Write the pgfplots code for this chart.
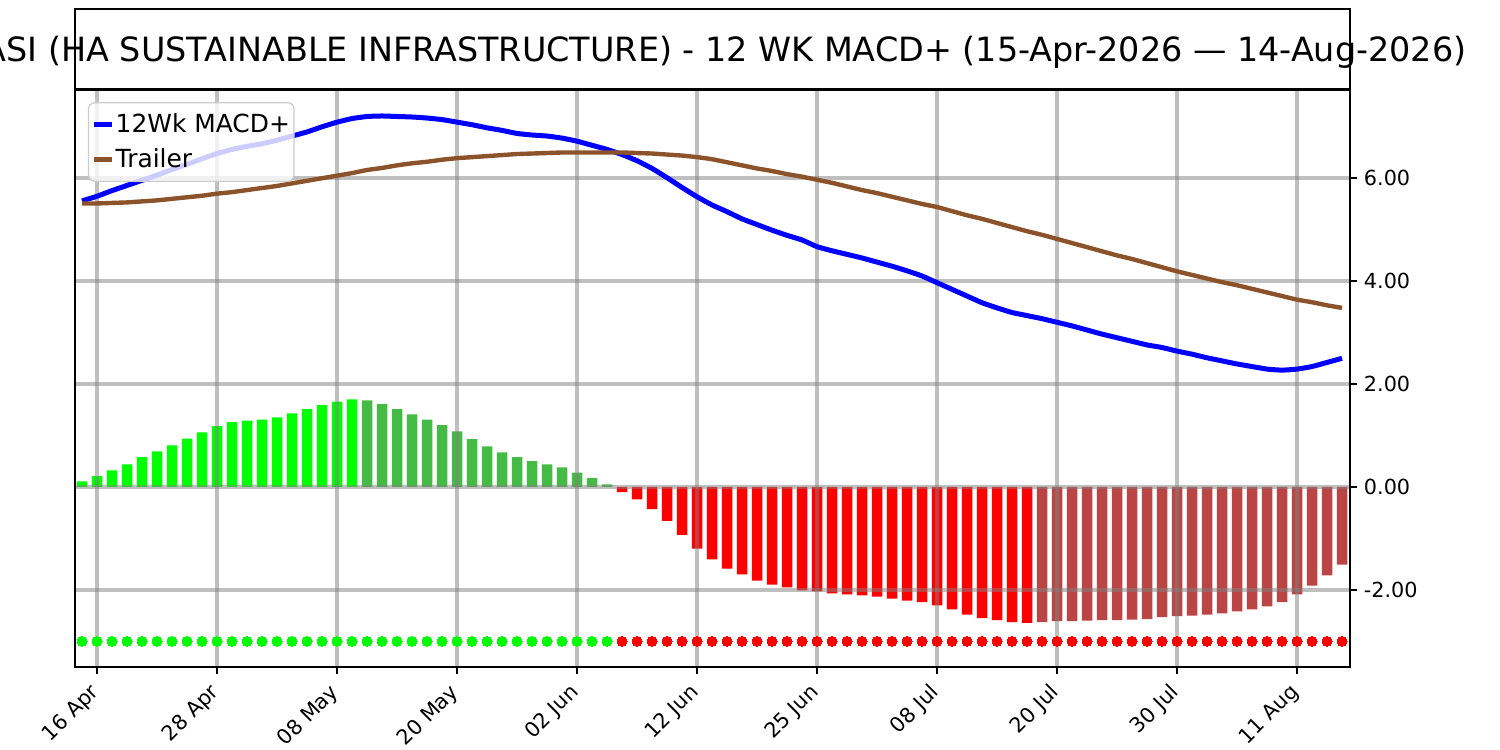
\documentclass[border=0pt]{standalone}
\usepackage{fontspec}
\setmainfont{DejaVu Sans}
\usepackage{pgfplots}
\pgfplotsset{compat=1.18}
\usepackage{pgfplotstable}

\definecolor{lgreen}{RGB}{0,255,0}
\definecolor{dgreen}{RGB}{68,187,68}
\definecolor{lred}{RGB}{255,0,0}
\definecolor{dred}{RGB}{187,68,68}
\definecolor{brownline}{RGB}{140,82,42}

% histogram: rising positive
\pgfplotstableread{
x y
0 0.11
1 0.21
2 0.32
3 0.44
4 0.58
5 0.69
6 0.81
7 0.94
8 1.06
9 1.18
10 1.26
11 1.29
12 1.31
13 1.35
14 1.43
15 1.51
16 1.59
17 1.66
18 1.70
}\barsLG
% falling positive
\pgfplotstableread{
x y
19 1.68
20 1.61
21 1.51
22 1.41
23 1.31
24 1.20
25 1.08
26 0.93
27 0.79
28 0.67
29 0.58
30 0.50
31 0.44
32 0.38
33 0.28
34 0.17
35 0.05
}\barsDG
% falling negative
\pgfplotstableread{
x y
36 -0.10
37 -0.24
38 -0.43
39 -0.66
40 -0.93
41 -1.20
42 -1.41
43 -1.59
44 -1.70
45 -1.82
46 -1.90
47 -1.95
48 -2.01
49 -2.03
50 -2.07
51 -2.09
52 -2.11
53 -2.13
54 -2.17
55 -2.21
56 -2.24
57 -2.30
58 -2.38
59 -2.48
60 -2.55
61 -2.59
62 -2.63
63 -2.64
}\barsLR
% rising negative
\pgfplotstableread{
x y
64 -2.63
65 -2.61
66 -2.61
67 -2.60
68 -2.59
69 -2.59
70 -2.58
71 -2.57
72 -2.53
73 -2.51
74 -2.50
75 -2.48
76 -2.46
77 -2.42
78 -2.38
79 -2.32
80 -2.24
81 -2.09
82 -1.92
83 -1.72
84 -1.51
}\barsDR

\pgfplotstableread{
x macd trailer
0 5.56 5.51
1 5.65 5.51
2 5.76 5.52
3 5.86 5.53
4 5.96 5.55
5 6.06 5.57
6 6.17 5.60
7 6.27 5.63
8 6.38 5.66
9 6.48 5.70
10 6.56 5.73
11 6.62 5.77
12 6.67 5.81
13 6.74 5.85
14 6.82 5.90
15 6.90 5.95
16 7.00 6.00
17 7.09 6.05
18 7.16 6.10
19 7.20 6.16
20 7.21 6.20
21 7.20 6.25
22 7.19 6.29
23 7.17 6.32
24 7.14 6.36
25 7.09 6.39
26 7.04 6.41
27 6.98 6.43
28 6.93 6.45
29 6.87 6.47
30 6.84 6.48
31 6.82 6.49
32 6.78 6.50
33 6.72 6.50
34 6.64 6.50
35 6.56 6.50
36 6.46 6.50
37 6.34 6.49
38 6.19 6.48
39 6.01 6.46
40 5.82 6.44
41 5.64 6.41
42 5.48 6.37
43 5.35 6.31
44 5.21 6.25
45 5.10 6.19
46 4.99 6.14
47 4.89 6.08
48 4.80 6.03
49 4.67 5.97
50 4.59 5.91
51 4.52 5.84
52 4.45 5.77
53 4.37 5.71
54 4.29 5.64
55 4.20 5.57
56 4.10 5.50
57 3.97 5.44
58 3.84 5.36
59 3.71 5.28
60 3.58 5.21
61 3.48 5.13
62 3.39 5.05
63 3.33 4.97
64 3.27 4.90
65 3.20 4.82
66 3.13 4.74
67 3.05 4.66
68 2.97 4.58
69 2.90 4.50
70 2.83 4.43
71 2.76 4.35
72 2.71 4.27
73 2.64 4.19
74 2.58 4.12
75 2.51 4.05
76 2.45 3.98
77 2.39 3.92
78 2.34 3.85
79 2.29 3.78
80 2.27 3.71
81 2.29 3.64
82 2.34 3.59
83 2.42 3.53
84 2.50 3.48
}\lines

\begin{document}
\begin{tikzpicture}
\begin{axis}[
  at={(0,0)}, anchor=south west,
  scale only axis, width=612bp, height=276.96bp,
  xmin=-0.47, xmax=84.53, ymin=-3.5, ymax=7.715,
  set layers=standard,
  axis line style={line width=0.8bp, black},
  every tick/.style={black, line width=0.8bp},
  major tick length=3.5bp,
  tick align=outside,
  xtick pos=bottom, ytick pos=right, yticklabel pos=right,
  xtick={1,9,17,25,33,41,49,57,65,73,81},
  xticklabels={16 Apr,28 Apr,08 May,20 May,02 Jun,12 Jun,25 Jun,08 Jul,20 Jul,30 Jul,11 Aug},
  ytick={-2,0,2,4,6},
  yticklabels={-2.00,0.00,2.00,4.00,6.00},
  ticklabel style={font=\fontsize{10}{12}\selectfont},
  xticklabel style={xshift=-4bp, yshift=-1.5bp, rotate=45, anchor=north east, inner sep=1.5bp},
  yticklabel style={inner sep=3bp},
  grid=major,
  major grid style={color=gray, opacity=0.5, line width=2bp},
  legend style={at={(0.0102,0.979)}, anchor=north west, draw=black!20, line width=0.6bp,
    rounded corners=3bp, fill=white, fill opacity=0.8, text opacity=1,
    font=\fontsize{12}{14}\selectfont, inner xsep=1.5bp, inner ysep=3.5bp, row sep=3.5bp,
    nodes={inner xsep=0.5bp, inner ysep=1.5bp}},
  legend cell align=left,
  legend image code/.code={\draw[#1, line width=2.5bp] (0bp,0bp) -- (8.5bp,0bp);},
]
\addplot[on layer=axis background, ybar, bar width=0.7, bar shift=0pt, fill=lgreen, draw=none, forget plot] table[x=x,y=y] {\barsLG};
\addplot[on layer=axis background, ybar, bar width=0.7, bar shift=0pt, fill=dgreen, draw=none, forget plot] table[x=x,y=y] {\barsDG};
\addplot[on layer=axis background, ybar, bar width=0.7, bar shift=0pt, fill=lred, draw=none, forget plot] table[x=x,y=y] {\barsLR};
\addplot[on layer=axis background, ybar, bar width=0.7, bar shift=0pt, fill=dred, draw=none, forget plot] table[x=x,y=y] {\barsDR};
\addplot[on layer=axis background, color=lgreen, only marks, mark=*, mark size=2.4bp, mark options={solid, draw=lgreen, fill=lgreen, line width=0pt}, forget plot] coordinates {
(0,-3) (1,-3) (2,-3) (3,-3) (4,-3) (5,-3) (6,-3) (7,-3) (8,-3) (9,-3)
(10,-3) (11,-3) (12,-3) (13,-3) (14,-3) (15,-3) (16,-3) (17,-3) (18,-3) (19,-3)
(20,-3) (21,-3) (22,-3) (23,-3) (24,-3) (25,-3) (26,-3) (27,-3) (28,-3) (29,-3)
(30,-3) (31,-3) (32,-3) (33,-3) (34,-3) (35,-3)};
\addplot[on layer=axis background, color=lred, only marks, mark=*, mark size=2.4bp, mark options={solid, draw=lred, fill=lred, line width=0pt}, forget plot] coordinates {
(36,-3) (37,-3) (38,-3) (39,-3) (40,-3) (41,-3) (42,-3) (43,-3) (44,-3) (45,-3)
(46,-3) (47,-3) (48,-3) (49,-3) (50,-3) (51,-3) (52,-3) (53,-3) (54,-3) (55,-3)
(56,-3) (57,-3) (58,-3) (59,-3) (60,-3) (61,-3) (62,-3) (63,-3) (64,-3) (65,-3)
(66,-3) (67,-3) (68,-3) (69,-3) (70,-3) (71,-3) (72,-3) (73,-3) (74,-3) (75,-3)
(76,-3) (77,-3) (78,-3) (79,-3) (80,-3) (81,-3) (82,-3) (83,-3) (84,-3)};
\addplot[color=blue, line width=2.4bp, smooth, tension=0.3, no markers] table[x=x,y=macd] {\lines};
\addlegendentry{12Wk MACD+\hspace{2bp}}
\addplot[color=brownline, line width=2.1bp, smooth, tension=0.3, no markers] table[x=x,y=trailer] {\lines};
\addlegendentry{Trailer}
\end{axis}
\draw[line width=0.8bp] (0bp,277.44bp) rectangle (612bp,315.84bp);
\node[anchor=base, font=\fontsize{16.1}{19.3}\selectfont, inner sep=0pt] at (306bp,290.4bp)
  {HASI (HA SUSTAINABLE INFRASTRUCTURE) - 12 WK MACD+ (15-Apr-2026 — 14-Aug-2026)};
\pgfresetboundingbox
\path[use as bounding box] (-36bp,-39.84bp) rectangle (684bp,320.16bp);
\end{tikzpicture}
\end{document}
